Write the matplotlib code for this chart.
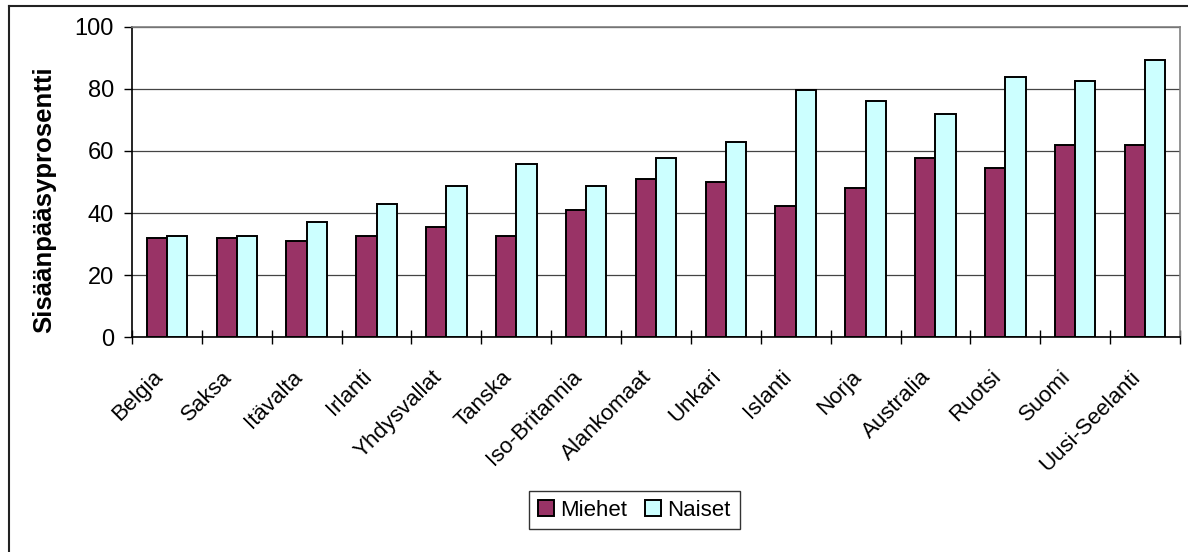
import numpy as np
import matplotlib
matplotlib.use("Agg")
import matplotlib.pyplot as plt
from matplotlib.lines import Line2D
from matplotlib.transforms import ScaledTranslation

plt.rcParams['font.family'] = ['Liberation Sans', 'DejaVu Sans']

countries = ["Belgia", "Saksa", "Itävalta", "Irlanti", "Yhdysvallat", "Tanska",
             "Iso-Britannia", "Alankomaat", "Unkari", "Islanti", "Norja",
             "Australia", "Ruotsi", "Suomi", "Uusi-Seelanti"]
miehet = [32, 32, 31, 32.6, 35.6, 32.6, 41, 51, 50, 42.2, 48, 57.6, 54.6, 61.8, 61.8]
naiset = [32.6, 32.6, 37, 42.8, 48.7, 55.8, 48.7, 57.6, 63, 79.6, 76.1, 72, 83.8, 82.6, 89.2]

W, H = 1188, 552
fig = plt.figure(figsize=(W / 100, H / 100), dpi=100)
fig.patch.set_facecolor('white')

ax = fig.add_axes([132 / W, 1 - 337.3 / H, (1180 - 132) / W, (337.3 - 26.7) / H])

x = np.arange(len(countries))
bw = 0.29
b1 = ax.bar(x - bw / 2, miehet, bw, color='#993366', edgecolor='black', linewidth=1.4,
            label='Miehet', zorder=3)
b2 = ax.bar(x + bw / 2, naiset, bw, color='#CCFFFF', edgecolor='black', linewidth=1.4,
            label='Naiset', zorder=3)

ax.set_xlim(-0.5, len(countries) - 0.5)
ax.set_ylim(0, 100)
ax.set_yticks(np.arange(0, 101, 20))
ax.yaxis.grid(True, color='#444444', linewidth=0.9, zorder=0)
ax.tick_params(axis='y', labelsize=17, length=6, width=1, direction='out', pad=7)

# category boundaries as ticks, names on the centres
ax.set_xticks(np.arange(-0.5, len(countries), 1.0))
ax.set_xticklabels([])
ax.set_xticks(x, minor=True)
ax.set_xticklabels(countries, minor=True, rotation=45, ha='right',
                   rotation_mode='anchor', fontsize=16)
ax.tick_params(axis='x', which='major', direction='inout', length=10, width=1)
ax.tick_params(axis='x', which='minor', length=0, pad=21)
shift = ScaledTranslation(-15 / 100, 0, fig.dpi_scale_trans)
for lbl in ax.get_xticklabels(minor=True):
    lbl.set_transform(lbl.get_transform() + shift)

for s in ['left', 'bottom']:
    ax.spines[s].set_color('black')
    ax.spines[s].set_linewidth(1.2)
for s in ['top', 'right']:
    ax.spines[s].set_color('#808080')
    ax.spines[s].set_linewidth(1.2)

ax.set_ylabel("Sisäänpääsyprosentti", fontsize=18.5, fontweight='bold')
ax.yaxis.set_label_coords(-0.072, 0.442)

leg = fig.legend(handles=[b1, b2], labels=['Miehet', 'Naiset'], loc='center',
                 bbox_to_anchor=(634.5 / W, 1 - 510 / H), ncol=2, fontsize=16,
                 frameon=True, fancybox=False, edgecolor='black',
                 handlelength=0.7, handleheight=0.7, handletextpad=0.3,
                 columnspacing=0.8, borderpad=0.4)
leg.get_frame().set_linewidth(1.0)

# outer chart border
fig.add_artist(Line2D([9 / W, 1.0], [1 - 6 / H] * 2, color='#222222', lw=1.5))
fig.add_artist(Line2D([9 / W] * 2, [0, 1 - 6 / H], color='#222222', lw=1.5))

fig.savefig("out.png", dpi=100)
